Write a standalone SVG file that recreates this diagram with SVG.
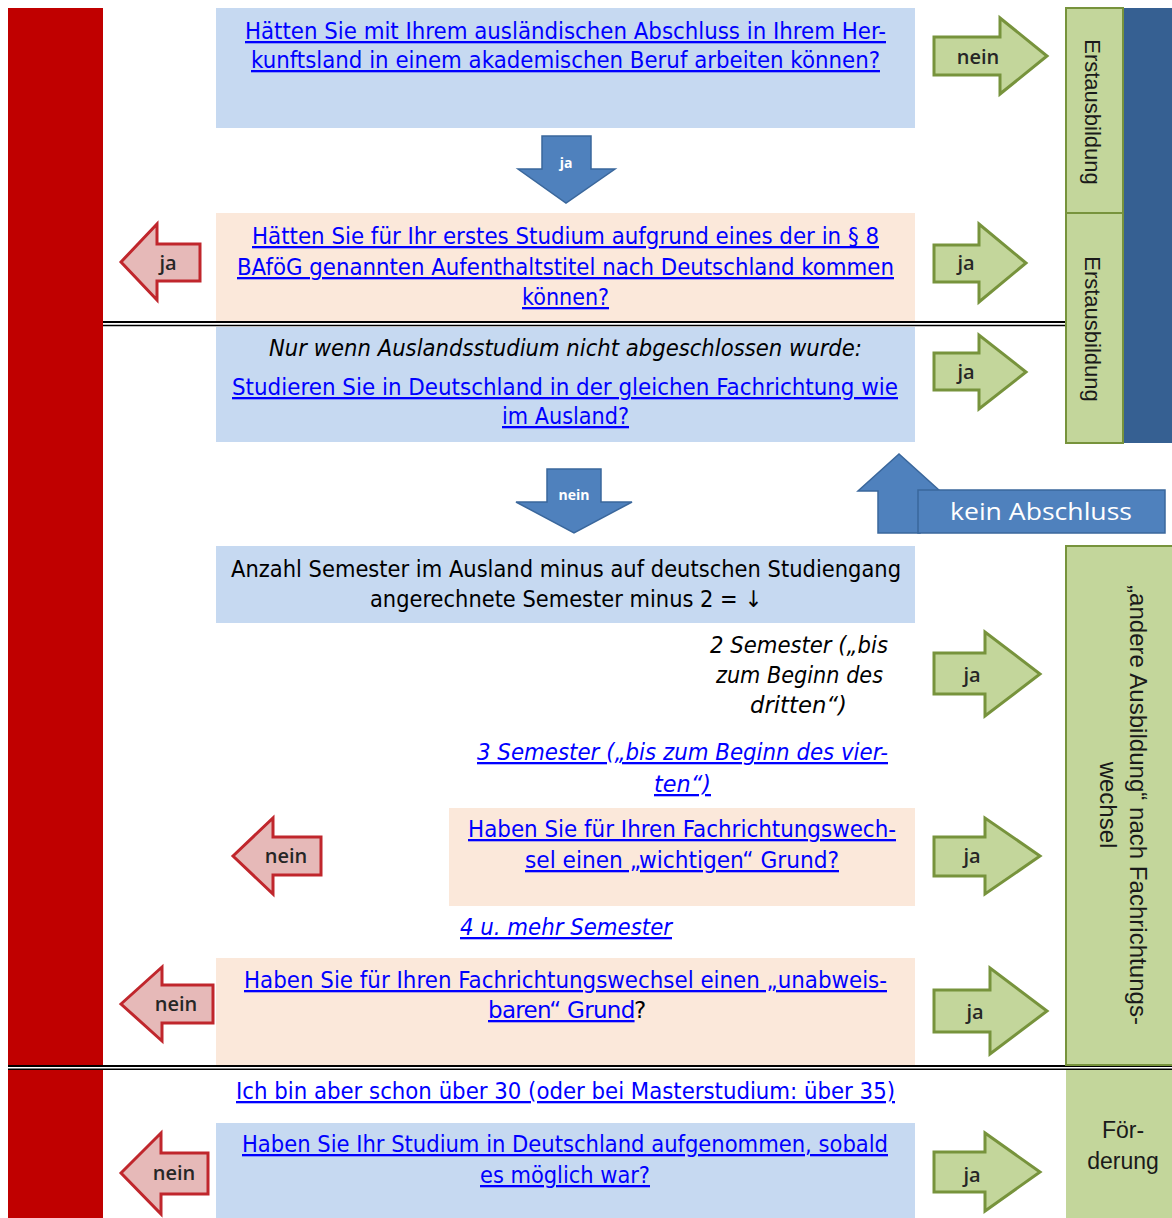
<svg xmlns="http://www.w3.org/2000/svg" width="1172" height="1218" viewBox="0 0 1172 1218">
<style>
.t{font-family:"DejaVu Sans","Liberation Sans",sans-serif;font-size:23px;}
.lk{fill:#0000FF;text-decoration:underline;}
.bk{fill:#000000;}
.it{font-style:italic;}
.lab{font-family:"Open Sans","Liberation Sans",sans-serif;font-size:20px;font-weight:600;fill:#262626;text-anchor:middle;}
.wl{font-family:"Open Sans","Liberation Sans",sans-serif;fill:#FFFFFF;}
.side{font-family:"Liberation Sans",Arial,sans-serif;fill:#1a1a1a;text-anchor:middle;}
.ga{fill:#C3D69B;stroke:#77933C;stroke-width:3;}
.ra{fill:#E6B9B8;stroke:#C0262C;stroke-width:3;}
.ba{fill:#4F81BD;stroke:#3A679C;stroke-width:1.5;}
.blue{fill:#C6D9F1;}
.peach{fill:#FBE8DA;}
.gbox{fill:#C3D69B;stroke:#77933C;stroke-width:2;}
.red{fill:#C00000;}
.dl{stroke:#000;fill:none;}
</style>
<rect width="1172" height="1218" fill="#FFFFFF"/>

<g id="left-bar">
<rect class="red" x="8" y="8" width="95" height="1057"/>
<rect class="red" x="8" y="1070" width="95" height="148"/>
</g>

<g id="separators">
<line class="dl" x1="103" y1="322" x2="1066" y2="322" stroke-width="2.2"/>
<line class="dl" x1="103" y1="325.5" x2="1066" y2="325.5" stroke-width="1.4"/>
<line class="dl" x1="8" y1="1066" x2="1172" y2="1066" stroke-width="2.2"/>
<line class="dl" x1="8" y1="1069.3" x2="1172" y2="1069.3" stroke-width="1.4"/>
</g>

<g id="side-erstausbildung">
<rect x="1123" y="8" width="49" height="435" fill="#366092"/>
<rect class="gbox" x="1066" y="8" width="57" height="205"/>
<rect class="gbox" x="1066" y="213" width="57" height="230"/>
<text class="side" font-size="22" transform="translate(1085,112) rotate(90)">Erstausbildung</text>
<text class="side" font-size="22" transform="translate(1085,329) rotate(90)">Erstausbildung</text>
</g>

<g id="side-andere">
<rect class="gbox" x="1066" y="546" width="108" height="519"/>
<text class="side" font-size="24" transform="translate(1130,805) rotate(90)"><tspan x="0" y="0" textLength="440" lengthAdjust="spacingAndGlyphs">„andere Ausbildung“ nach Fachrichtungs-</tspan><tspan x="0" y="30">wechsel</tspan></text>
</g>

<g id="side-foerderung">
<rect x="1066" y="1070" width="106" height="148" fill="#C3D69B"/>
<text class="side" font-size="23"><tspan x="1123" y="1138">För-</tspan><tspan x="1123" y="1169">derung</tspan></text>
</g>

<g id="q1">
<rect class="blue" x="216" y="8" width="699" height="120"/>
<text class="t lk" x="245" y="39" textLength="641" lengthAdjust="spacingAndGlyphs">Hätten Sie mit Ihrem ausländischen Abschluss in Ihrem Her-</text>
<text class="t lk" x="251" y="68" textLength="629" lengthAdjust="spacingAndGlyphs">kunftsland in einem akademischen Beruf arbeiten können?</text>
</g>

<g id="q2">
<rect class="peach" x="216" y="213" width="699" height="108"/>
<text class="t lk" x="252" y="244" textLength="627" lengthAdjust="spacingAndGlyphs">Hätten Sie für Ihr erstes Studium aufgrund eines der in § 8</text>
<text class="t lk" x="237" y="275" textLength="657" lengthAdjust="spacingAndGlyphs">BAföG genannten Aufenthaltstitel nach Deutschland kommen</text>
<text class="t lk" x="522" y="305" textLength="87" lengthAdjust="spacingAndGlyphs">können?</text>
</g>

<g id="q3">
<rect class="blue" x="216" y="327" width="699" height="115"/>
<text class="t bk it" x="269" y="356" textLength="593" lengthAdjust="spacingAndGlyphs">Nur wenn Auslandsstudium nicht abgeschlossen wurde:</text>
<text class="t lk" x="232" y="395" textLength="666" lengthAdjust="spacingAndGlyphs">Studieren Sie in Deutschland in der gleichen Fachrichtung wie</text>
<text class="t lk" x="502" y="424" textLength="127" lengthAdjust="spacingAndGlyphs">im Ausland?</text>
</g>

<g id="q4">
<rect class="blue" x="216" y="546" width="699" height="77"/>
<text class="t bk" x="231" y="577" textLength="670" lengthAdjust="spacingAndGlyphs">Anzahl Semester im Ausland minus auf deutschen Studiengang</text>
<text class="t bk" x="370" y="607" textLength="392" lengthAdjust="spacingAndGlyphs">angerechnete Semester minus 2 = ↓</text>
</g>

<g id="sem2">
<text class="t bk it" x="710" y="653" textLength="178" lengthAdjust="spacingAndGlyphs">2 Semester („bis</text>
<text class="t bk it" x="716" y="683" textLength="167" lengthAdjust="spacingAndGlyphs">zum Beginn des</text>
<text class="t bk it" x="750" y="713" textLength="97" lengthAdjust="spacingAndGlyphs">dritten“)</text>
</g>

<g id="sem3">
<text class="t lk it" x="477" y="760" textLength="411" lengthAdjust="spacingAndGlyphs">3 Semester („bis zum Beginn des vier-</text>
<text class="t lk it" x="654" y="792" textLength="57" lengthAdjust="spacingAndGlyphs">ten“)</text>
</g>

<g id="q5">
<rect class="peach" x="449" y="808" width="466" height="98"/>
<text class="t lk" x="468" y="837" textLength="428" lengthAdjust="spacingAndGlyphs">Haben Sie für Ihren Fachrichtungswech-</text>
<text class="t lk" x="525" y="868" textLength="314" lengthAdjust="spacingAndGlyphs">sel einen „wichtigen“ Grund?</text>
</g>

<g id="sem4">
<text class="t lk it" x="460" y="935" textLength="212" lengthAdjust="spacingAndGlyphs">4 u. mehr Semester</text>
</g>

<g id="q6">
<rect class="peach" x="216" y="958" width="699" height="107"/>
<text class="t lk" x="244" y="988" textLength="643" lengthAdjust="spacingAndGlyphs">Haben Sie für Ihren Fachrichtungswechsel einen „unabweis-</text>
<text class="t lk" x="488" y="1018" font-size="22.5" letter-spacing="-0.7">baren“ Grund</text>
<text class="t bk" x="634" y="1018">?</text>
</g>

<g id="age">
<text class="t lk" x="236" y="1099" textLength="659" lengthAdjust="spacingAndGlyphs">Ich bin aber schon über 30 (oder bei Masterstudium: über 35)</text>
</g>

<g id="q7">
<rect class="blue" x="216" y="1123" width="699" height="95"/>
<text class="t lk" x="242" y="1152" textLength="646" lengthAdjust="spacingAndGlyphs">Haben Sie Ihr Studium in Deutschland aufgenommen, sobald</text>
<text class="t lk" x="480" y="1183" textLength="170" lengthAdjust="spacingAndGlyphs">es möglich war?</text>
</g>

<g id="connectors">
<g id="a-q1-nein">
<polygon class="ga" points="934,37 1000,37 1000,18 1047,56 1000,94 1000,75 934,75"/>
<text class="lab" x="978" y="64">nein</text>
</g>
<g id="a-q1-ja">
<polygon class="ba" points="542,136 591,136 591,169 615,169 566,203 518,169 542,169"/>
<text class="wl" x="566" y="168" font-size="14" font-weight="bold" text-anchor="middle">ja</text>
</g>
<g id="a-q2-ja-left">
<polygon class="ra" points="121,262 157,224 157,244 200,244 200,281 157,281 157,300"/>
<text class="lab" x="168" y="270">ja</text>
</g>
<g id="a-q2-ja">
<polygon class="ga" points="934,245 979,245 979,224 1026,263 979,302 979,282 934,282"/>
<text class="lab" x="966" y="270">ja</text>
</g>
<g id="a-q3-ja">
<polygon class="ga" points="934,353 979,353 979,335 1026,372 979,409 979,390 934,390"/>
<text class="lab" x="966" y="379">ja</text>
</g>
<g id="a-q3-nein">
<polygon class="ba" points="547,469 601,469 601,502 632,502 574,533 516,502 547,502"/>
<text class="wl" x="574" y="500" font-size="14" font-weight="bold" text-anchor="middle">nein</text>
</g>
<g id="a-kein-abschluss">
<polygon class="ba" points="878,533 878,491 858,491 899,454 940,491 920,491 920,533"/>
<rect class="ba" x="918" y="490" width="247" height="43"/>
<text class="wl" x="950" y="520" font-size="23" textLength="182" lengthAdjust="spacingAndGlyphs">kein Abschluss</text>
</g>
<g id="a-sem2-ja">
<polygon class="ga" points="934,653 985,653 985,632 1040,674 985,716 985,694 934,694"/>
<text class="lab" x="972" y="682">ja</text>
</g>
<g id="a-q5-nein">
<polygon class="ra" points="233,856 273,818 273,837 321,837 321,875 273,875 273,894"/>
<text class="lab" x="286" y="863">nein</text>
</g>
<g id="a-q5-ja">
<polygon class="ga" points="934,837 985,837 985,818 1040,856 985,894 985,876 934,876"/>
<text class="lab" x="972" y="863">ja</text>
</g>
<g id="a-q6-nein">
<polygon class="ra" points="121,1004 162,967 162,985 213,985 213,1023 162,1023 162,1041"/>
<text class="lab" x="176" y="1011">nein</text>
</g>
<g id="a-q6-ja">
<polygon class="ga" points="934,990 990,990 990,968 1047,1011 990,1054 990,1032 934,1032"/>
<text class="lab" x="975" y="1019">ja</text>
</g>
<g id="a-q7-nein">
<polygon class="ra" points="121,1173 161,1133 161,1153 208,1153 208,1194 161,1194 161,1214"/>
<text class="lab" x="174" y="1180">nein</text>
</g>
<g id="a-q7-ja">
<polygon class="ga" points="934,1152 985,1152 985,1133 1040,1172 985,1211 985,1192 934,1192"/>
<text class="lab" x="972" y="1182">ja</text>
</g>
</g>
</svg>
